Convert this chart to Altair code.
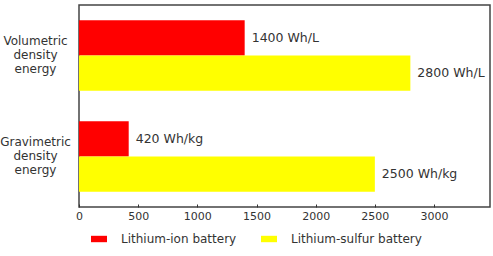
import altair as alt
import pandas as pd

categories = ["Volumetric density energy", "Gravimetric density energy"]
series = ["Lithium-ion battery", "Lithium-sulfur battery"]
li_ion = [1400, 420]
li_s = [2800, 2500]
li_ion_labels = ["1400 Wh/L", "420 Wh/kg"]
li_s_labels = ["2800 Wh/L", "2500 Wh/kg"]
x_ticks = [0, 500, 1000, 1500, 2000, 2500, 3000]
colors = ["#ff0000", "#ffff00"]

rows = []
for i, c in enumerate(categories):
    rows.append({"cat": c, "series": series[0], "value": li_ion[i], "label": li_ion_labels[i]})
    rows.append({"cat": c, "series": series[1], "value": li_s[i], "label": li_s_labels[i]})
df = pd.DataFrame(rows)

FONT = "DejaVu Sans"
TXT = "#333333"

xscale = alt.Scale(domain=[0, 3473], nice=False, zero=True)
yenc = alt.Y("cat:N", sort=categories, title=None,
             scale=alt.Scale(paddingInner=0.3, paddingOuter=0.15),
             axis=alt.Axis(labelExpr="split(datum.value, ' ')", labelAlign="center",
                           labelBaseline="middle", ticks=False, domain=False,
                           labelPadding=44, labelFontSize=12, labelFont=FONT,
                           labelColor=TXT, labelLineHeight=14, labelOffset=-15))
yoff = alt.YOffset("series:N", sort=series, scale=alt.Scale(paddingInner=0, paddingOuter=0))

bars = alt.Chart(df).mark_bar().encode(
    x=alt.X("value:Q", scale=xscale, title=None,
            axis=alt.Axis(values=x_ticks, format="d", ticks=False, domain=False, grid=False,
                          labelFontSize=11, labelFont=FONT, labelColor=TXT,
                          labelPadding=3, labelFlush=False)),
    y=yenc,
    yOffset=yoff,
    color=alt.Color("series:N", sort=series, title=None,
                    scale=alt.Scale(domain=series, range=colors),
                    legend=alt.Legend(orient="none", legendX=12, legendY=226,
                                      direction="horizontal", padding=0,
                                      symbolType="M-1,-0.4L1,-0.4L1,0.4L-1,0.4Z",
                                      symbolSize=256, symbolStrokeWidth=0,
                                      labelFontSize=12, labelFont=FONT, labelColor=TXT,
                                      labelOffset=14, columnPadding=24)),
)

labels = alt.Chart(df).mark_text(align="left", baseline="middle", dx=7,
                                 fontSize=12.5, font=FONT, color=TXT).encode(
    x=alt.X("value:Q", scale=xscale, axis=None),
    y=alt.Y("cat:N", sort=categories),
    yOffset=yoff,
    text="label:N",
)

ticks_layer = alt.Chart(df).mark_point(opacity=0).encode(
    x=alt.X("value:Q", scale=xscale, title=None,
            axis=alt.Axis(orient="top", values=x_ticks, labels=False, domain=False,
                          grid=False, ticks=True, tickSize=3, tickColor="#333333",
                          offset=-202)),
)

chart = alt.layer(bars, labels, ticks_layer).resolve_axis(x="independent").properties(
    width=411, height=202,
    autosize=alt.AutoSizeParams(type="none"),
    padding={"left": 79, "top": 5, "right": 3, "bottom": 49},
).configure_view(stroke="#444444", strokeWidth=1.5)

chart.save("out.html", embed_options={"renderer": "svg", "actions": False})
